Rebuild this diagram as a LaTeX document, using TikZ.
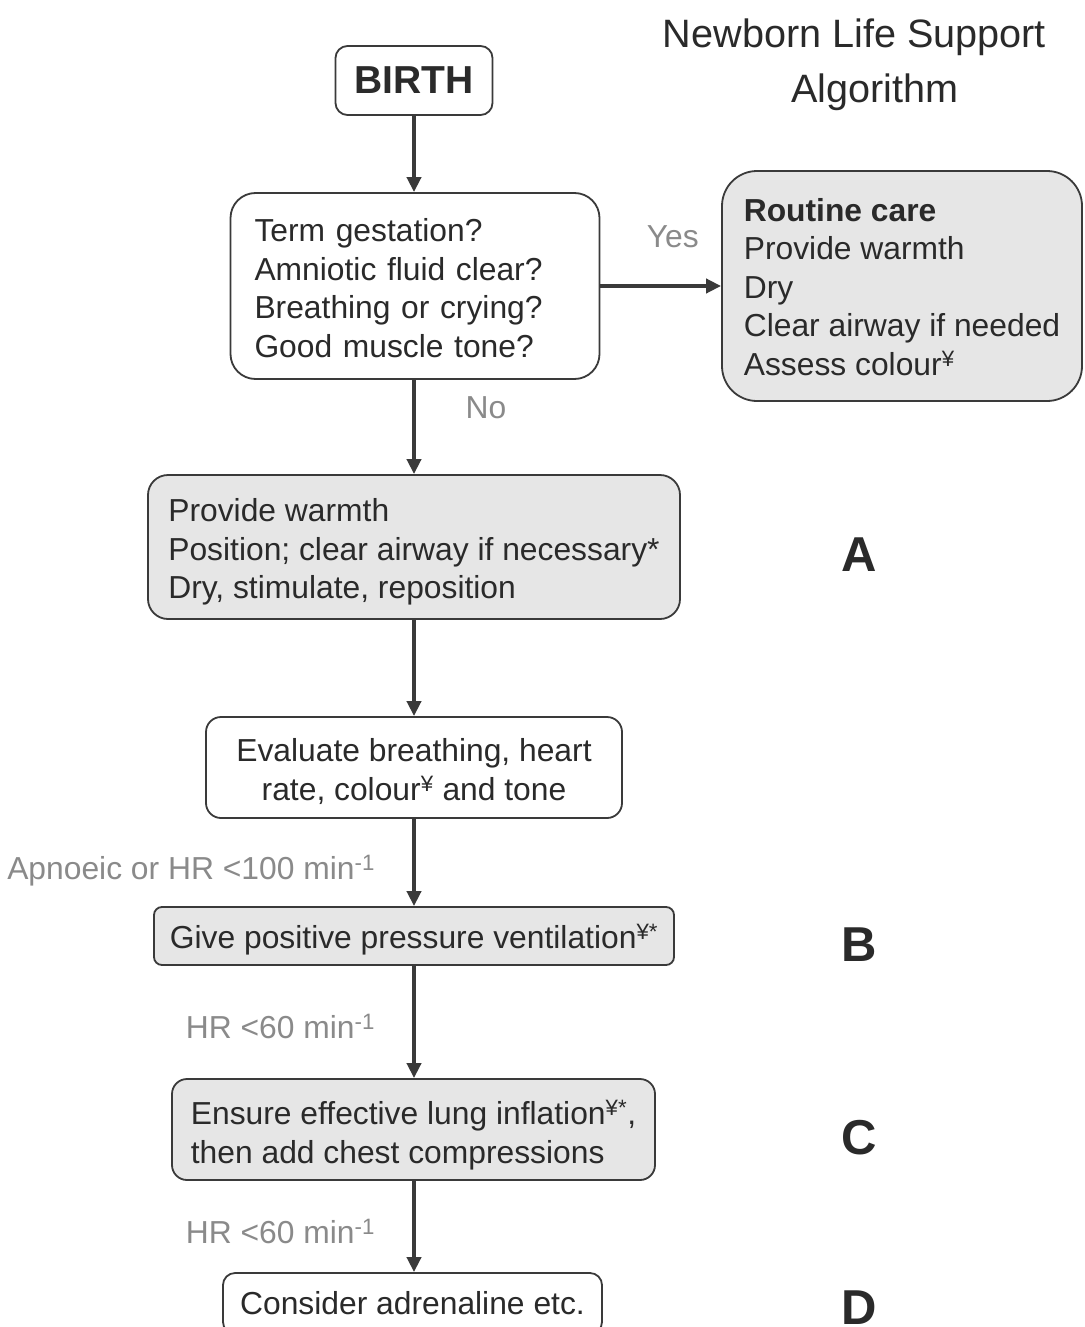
\documentclass[tikz,border=0pt]{standalone}
\usepackage{fontspec}
\setmainfont{Liberation Sans}
\usetikzlibrary{arrows.meta}
\definecolor{ink}{HTML}{2A2A2A}
\definecolor{edgec}{HTML}{3A3A3A}
\definecolor{lblgray}{HTML}{8A8A8A}
\definecolor{boxfill}{HTML}{E6E6E6}
\newcommand\pushdown[1]{\rule{0pt}{#1pt}}
\begin{document}
\begin{tikzpicture}[x=1pt,y=-1pt,
  every node/.style={text=ink},
  basebox/.style={draw=edgec, line width=1.8pt, inner sep=0pt,
    font=\fontsize{31.8}{38.6}\selectfont},
  wbox/.style={basebox, fill=white},
  gbox/.style={basebox, fill=boxfill},
  arr/.style={draw=edgec, line width=4.2pt, -{Triangle[length=15pt,width=14pt]}},
  lab/.style={text=lblgray, font=\fontsize{31.8}{38.6}\selectfont, inner sep=0pt},
  steplet/.style={font=\fontsize{49}{49}\selectfont\bfseries, inner sep=0pt},
  titlef/.style={font=\fontsize{39.6}{48}\selectfont, inner sep=0pt}
]
\useasboundingbox (0,0) rectangle (1084,1327);
\fill[white] (0,0) rectangle (1084,1327);

% title
\node[titlef, anchor=base] (t1) at (854.5,48) {Newborn Life Support};
\node[titlef, anchor=base] (t2) at (875,103) {Algorithm};

% boxes
\node[wbox, rounded corners=12pt, minimum width=157pt, minimum height=69pt,
  font=\fontsize{39}{39}\selectfont\bfseries] (birth) at (414,80.5) {BIRTH};
\node[wbox, rounded corners=25pt, minimum width=369pt, minimum height=186pt,
  text width=321pt, align=left] (q) at (415,286)
  {\pushdown{27}Term gestation?\\Amniotic fluid clear?\\Breathing or crying?\\Good muscle tone?};
\node[gbox, rounded corners=35pt, minimum width=360pt, minimum height=230pt,
  align=left] (routine) at (902,286)
  {\pushdown{25}\textbf{Routine care}\\Provide warmth\\Dry\\Clear airway if needed\\Assess colour\textsuperscript{¥}};
\node[gbox, rounded corners=20pt, minimum width=532pt, minimum height=144pt,
  align=left] (abox) at (414,547)
  {\pushdown{33}Provide warmth\\Position; clear airway if necessary*\\Dry, stimulate, reposition};
\node[wbox, rounded corners=15pt, minimum width=416pt, minimum height=101pt,
  align=center] (eval) at (414,767.5)
  {\pushdown{31}Evaluate breathing, heart\\rate, colour\textsuperscript{¥} and tone};
\node[gbox, rounded corners=8pt, minimum width=520pt, minimum height=58pt,
  text height=25pt, text depth=0pt]
  (give) at (414,936) {Give positive pressure ventilation\textsuperscript{¥*}};
\node[gbox, rounded corners=15pt, minimum width=483pt, minimum height=101pt,
  align=left] (ensure) at (413.5,1129.5)
  {\pushdown{35}Ensure effective lung inflation\textsuperscript{¥*},\\then add chest compressions};
\node[wbox, rounded corners=12pt, minimum width=379pt, minimum height=61pt]
  (consider) at (412.5,1303.5) {Consider adrenaline etc.};

% step letters
\node[steplet] (la) at (859,554.5) {A};
\node[steplet] (lb) at (859,945) {B};
\node[steplet] (lc) at (859,1137.5) {C};
\node[steplet] (ld) at (859,1308) {D};

% connectors
\draw[arr] (birth) -- (birth.south |- q.north);
\draw[arr] (q) -- node[lab, pos=0.6, yshift=49.5pt] {Yes} (routine);
\draw[arr] (birth.south |- q.south) -- node[lab, pos=0.3, xshift=72pt] {No} (abox);
\draw[arr] (abox) -- (eval);
\draw[arr] (eval) -- node[lab, midway, anchor=base east, xshift=-37pt, yshift=-16.7pt]
  {Apnoeic or HR <100 min\textsuperscript{-1}} (give);
\draw[arr] (give) -- node[lab, midway, anchor=base east, xshift=-37pt, yshift=-16.7pt]
  {HR <60 min\textsuperscript{-1}} (give.south |- ensure.north);
\draw[arr] (give.south |- ensure.south) -- node[lab, midway, anchor=base east, xshift=-37pt, yshift=-16.7pt]
  {HR <60 min\textsuperscript{-1}} (give.south |- consider.north);
\end{tikzpicture}
\end{document}
